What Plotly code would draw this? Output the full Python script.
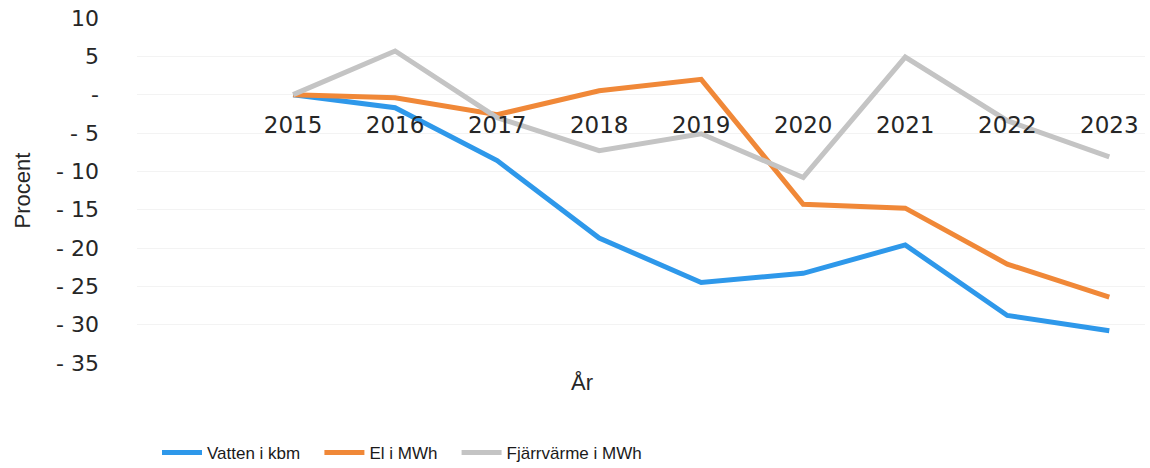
import plotly.graph_objects as go

years = ["2015", "2016", "2017", "2018", "2019", "2020", "2021", "2022", "2023"]
vatten = [0, -1.7, -8.6, -18.7, -24.5, -23.3, -19.6, -28.8, -30.8]
el = [0, -0.4, -2.6, 0.5, 2.0, -14.3, -14.8, -22.1, -26.4]
fjarr = [0, 5.7, -3.0, -7.3, -5.1, -10.8, 4.9, -3.4, -8.1]

y_tickvals = [10, 5, 0, -5, -10, -15, -20, -25, -30, -35]
y_ticktext = ["10", "5", "-", "- 5", "- 10", "- 15", "- 20", "- 25", "- 30", "- 35"]

series = [
    ("Vatten i kbm", vatten, "#2E98EA"),
    ("El i MWh", el, "#F08838"),
    ("Fjärrvärme i MWh", fjarr, "#C4C4C4"),
]

W, H = 1150, 468
L, R, T, B = 137, 5, 18, 105
pw = W - L - R
ph = H - T - B

fig = go.Figure()
for name, vals, col in series:
    fig.add_trace(go.Scatter(x=years, y=vals, mode="lines", name=name + "\u00a0\u00a0\u00a0",
                             line=dict(color=col, width=5)))

tick_font = "DejaVu Sans, Verdana, sans-serif"
narrow = "Liberation Sans, Arial, sans-serif"

fig.update_layout(
    width=W, height=H,
    margin=dict(l=L, r=R, t=T, b=B, autoexpand=False),
    paper_bgcolor="white", plot_bgcolor="white",
    font=dict(family=tick_font, color="#262626", size=19),
    showlegend=True,
    legend=dict(orientation="h", x=(157 - L) / pw, xanchor="left",
                y=-(453 - 363) / ph, yanchor="middle",
                font=dict(family=narrow, size=17, color="#1a1a1a"),
                itemwidth=40, traceorder="normal"),
    xaxis=dict(
        type="category", range=[-1.53, 8.35],
        anchor="free", position=35 / 45, automargin=False,
        showline=False, showgrid=False, zeroline=False,
        ticks="", ticklabelstandoff=14,
        tickfont=dict(family=tick_font, size=23, color="#262626"),
    ),
    yaxis=dict(
        range=[-35, 10], tickvals=y_tickvals, ticktext=y_ticktext,
        showgrid=True, gridcolor="#f3f3f3", gridwidth=1, automargin=False,
        zeroline=False, showline=False, ticks="", ticklabelstandoff=37,
        tickfont=dict(family=tick_font, size=22, color="#262626"),
    ),
)

fig.add_annotation(text="År", xref="paper", yref="paper",
                   x=(582 - L) / pw, y=-(382 - 363) / ph, xanchor="center", yanchor="middle",
                   showarrow=False, font=dict(size=22, color="#262626", family=narrow))
fig.add_annotation(text="Procent", xref="paper", yref="paper", textangle=-90,
                   x=-(L - 22) / pw, y=0.5, xanchor="center", yanchor="middle",
                   showarrow=False, font=dict(size=22, color="#262626", family=narrow))

fig.write_html("out.html", config={"displayModeBar": False},
               post_script="document.body.style.margin='0';")
